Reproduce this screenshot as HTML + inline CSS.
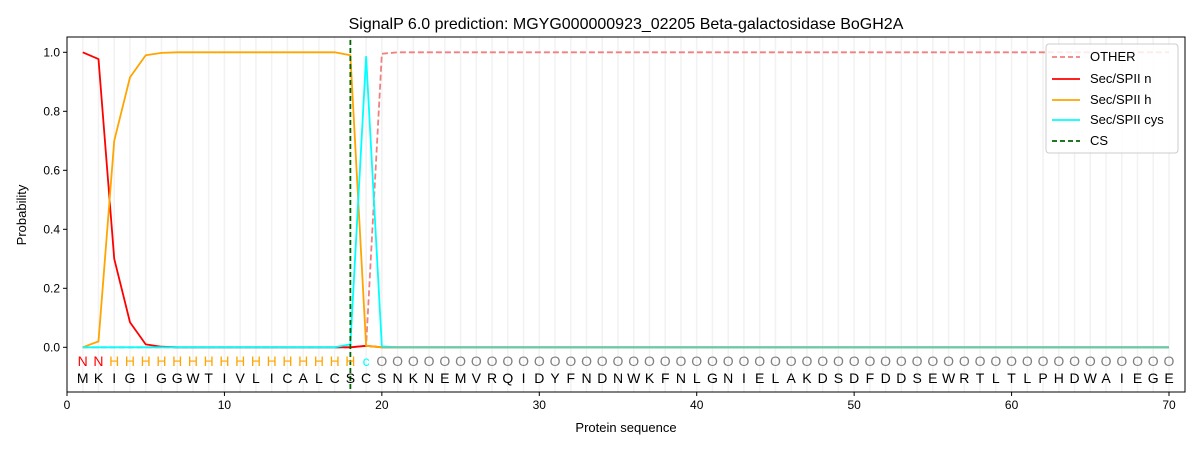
<!DOCTYPE html>
<html><head><meta charset="utf-8">
<style>body{margin:0;background:#fff}svg{display:block;font-family:"Liberation Sans","DejaVu Sans",sans-serif}</style>
</head><body>
<svg id="chart" width="1200" height="450" xmlns="http://www.w3.org/2000/svg"></svg>
<script>
const seq = "MKIGIGGWTIVLICALCSCSNKNEMVRQIDYFNDNWKFNLGNIELAKDSDFDDSEWRTLTLPHDWAIEGE".split("");
const labels = "NNHHHHHHHHHHHHHHHHcOOOOOOOOOOOOOOOOOOOOOOOOOOOOOOOOOOOOOOOOOOOOOOOOOOO".split("");
const nVals = [1.0,0.977,0.30,0.085,0.01,0.002,0,0,0,0,0,0,0,0,0,0,0,0,0.005,0];
const hVals = [0,0.02,0.70,0.915,0.99,0.998,1,1,1,1,1,1,1,1,1,1,1,0.99,0.005,0];
const cysVals = [0,0,0,0,0,0,0,0,0,0,0,0,0,0,0,0,0,0.01,0.985,0.003];
const otherVals = [0,0,0,0,0,0,0,0,0,0,0,0,0,0,0,0,0,0,0.005,0.995];
const csPos = 18;
const xTicks = [0,10,20,30,40,50,60,70];
const yTicks = [0,0.2,0.4,0.6,0.8,1.0];

const L=67,R=1185,T=37,B=392;
const X=v=>67+v*(1169-67)/70;
const Y=v=>347.3-v*295;
const N=seq.length;
const full=(arr,fill)=>{const a=[];for(let i=0;i<N;i++)a.push(i<arr.length?arr[i]:fill);return a;};
const svg=document.getElementById('chart');
const ns="http://www.w3.org/2000/svg";
function el(tag,attrs,parent){const e=document.createElementNS(ns,tag);for(const k in attrs)e.setAttribute(k,attrs[k]);(parent||svg).appendChild(e);return e;}

const g=el('g',{});


for(let i=1;i<=N;i++){el('line',{x1:X(i),x2:X(i),y1:T,y2:B,stroke:'#f2f2f2','stroke-width':1.5},g);}

function series(vals,color,dash,name,op){
  const p=el('polyline',{points:vals.map((v,i)=>X(i+1)+','+Y(v)).join(' '),fill:'none',stroke:color,'stroke-width':1.8,'stroke-opacity':op||1,'stroke-linejoin':'round'});
  if(dash)p.setAttribute('stroke-dasharray',dash);
  
  
}
series(full(otherVals,1),'#f08080','6,3','series-other');
series(full(nVals,0),'#ff0000',null,'series-sec-spii-n');
series(full(hVals,0),'#ffa500',null,'series-sec-spii-h');
series(full(cysVals,0),'#00ffff',null,'series-sec-spii-cys');
// faint overlay that gives zero-baseline its teal tone
const base=el('line',{x1:X(20),x2:X(N),y1:Y(0),y2:Y(0),stroke:'#66cdaa','stroke-width':1.8});


const cs=el('line',{x1:X(csPos),x2:X(csPos),y1:T+3,y2:B,stroke:'#006400','stroke-width':1.8,'stroke-dasharray':'5,3'});



const colMap={N:'#ff0000',H:'#ffa500',c:'#00ffff',O:'#808080'};
for(let i=0;i<N;i++){
  const t=el('text',{x:X(i+1),y:366,'text-anchor':'middle','font-size':14,fill:colMap[labels[i]]});t.textContent=labels[i];
  
  
  const s=el('text',{x:X(i+1),y:383,'text-anchor':'middle','font-size':14,fill:'#000'});s.textContent=seq[i];
  
  
}

const fr=el('rect',{x:L,y:T,width:R-L,height:B-T,fill:'none',stroke:'#000','stroke-width':1});


xTicks.forEach(v=>{el('line',{x1:X(v),x2:X(v),y1:B,y2:B+4,stroke:'#000'});
  const t=el('text',{x:X(v),y:B+17,'text-anchor':'middle','font-size':12});t.textContent=v;
  
  });
yTicks.forEach(v=>{el('line',{x1:L-4,x2:L,y1:Y(v),y2:Y(v),stroke:'#000'});
  const t=el('text',{x:L-7,y:Y(v)+4,'text-anchor':'end','font-size':12});t.textContent=v.toFixed(1);
  
  });
</script>
<div style="position:absolute;left:0;top:0;width:1200px;height:450px;pointer-events:none">
<svg width="1200" height="450" style="position:absolute;left:0;top:0">
<text x="626" y="29" text-anchor="middle" font-size="16">SignalP 6.0 prediction: MGYG000000923_02205 Beta-galactosidase BoGH2A</text>
<text x="626" y="432" text-anchor="middle" font-size="13">Protein sequence</text>
<text x="26" y="215" text-anchor="middle" font-size="13" transform="rotate(-90 26 215)">Probability</text>
<g>
<rect x="1046" y="44" width="132" height="109" rx="3" fill="#fff" fill-opacity="0.85" stroke="#ccc"/>
<line x1="1052" y1="57" x2="1080" y2="57" stroke="#f08080" stroke-width="1.8" stroke-dasharray="5,3"/>
<text x="1090" y="61" font-size="13">OTHER</text>
<line x1="1052" y1="79" x2="1080" y2="79" stroke="#ff0000" stroke-width="1.8"/>
<text x="1090" y="83" font-size="13">Sec/SPII n</text>
<line x1="1052" y1="100" x2="1080" y2="100" stroke="#ffa500" stroke-width="1.8"/>
<text x="1090" y="104" font-size="13">Sec/SPII h</text>
<line x1="1052" y1="120" x2="1080" y2="120" stroke="#00ffff" stroke-width="1.8"/>
<text x="1090" y="124" font-size="13">Sec/SPII cys</text>
<line x1="1052" y1="141" x2="1080" y2="141" stroke="#006400" stroke-width="1.8" stroke-dasharray="5,3"/>
<text x="1090" y="145" font-size="13">CS</text>
</g>
</svg></div>
</body></html>
